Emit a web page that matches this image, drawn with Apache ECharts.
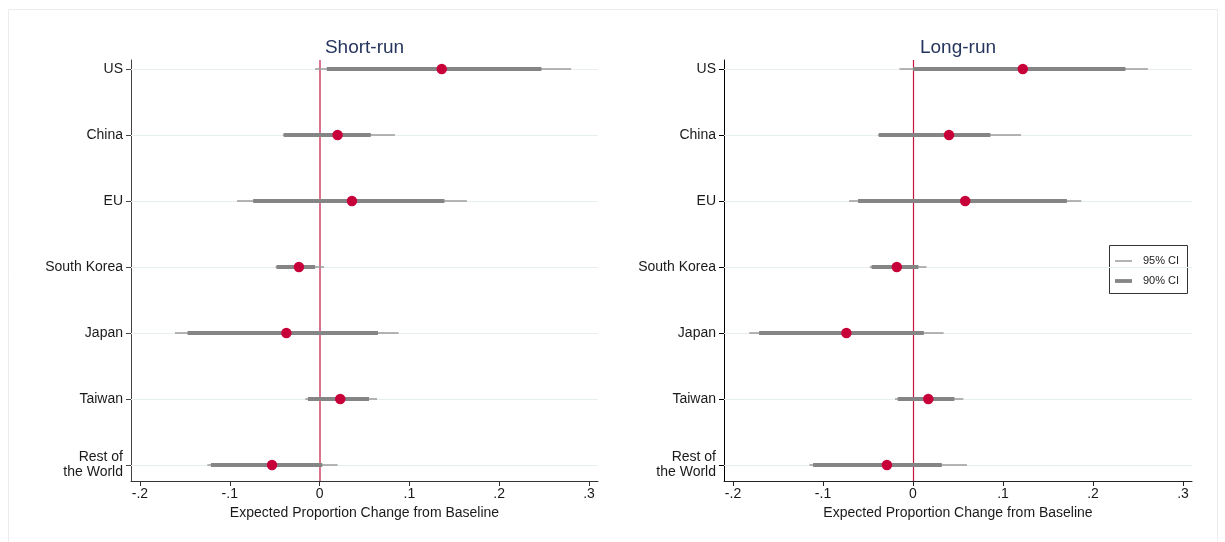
<!DOCTYPE html>
<html>
<head>
<meta charset="utf-8">
<title>Expected Proportion Change from Baseline</title>
<script src="https://cdn.jsdelivr.net/npm/echarts@6/dist/echarts.min.js"></script>
<style>
  html, body { margin: 0; padding: 0; background: #ffffff; }
  #chart { width: 1225px; height: 542px; }
</style>
</head>
<body>
<div id="chart"></div>
<script>
// Rows, top to bottom
const categories = ['US', 'China', 'EU', 'South Korea', 'Japan', 'Taiwan', 'Rest of\nthe World'];

// Short-run estimates with 90% and 95% confidence bounds
const srEst  = [0.136, 0.020, 0.036, -0.023, -0.037, 0.023, -0.053];
const srLo90 = [0.008, -0.040, -0.074, -0.048, -0.147, -0.013, -0.121];
const srHi90 = [0.247, 0.057, 0.139, -0.005, 0.065, 0.055, 0.003];
const srLo95 = [-0.005, -0.041, -0.092, -0.049, -0.161, -0.016, -0.125];
const srHi95 = [0.280, 0.084, 0.164, 0.005, 0.088, 0.064, 0.020];

// Long-run estimates with 90% and 95% confidence bounds
const lrEst  = [0.122, 0.040, 0.058, -0.018, -0.074, 0.017, -0.029];
const lrLo90 = [0.000, -0.038, -0.061, -0.046, -0.171, -0.017, -0.111];
const lrHi90 = [0.236, 0.086, 0.171, 0.006, 0.012, 0.046, 0.032];
const lrLo95 = [-0.015, -0.039, -0.071, -0.048, -0.182, -0.020, -0.115];
const lrHi95 = [0.261, 0.120, 0.187, 0.015, 0.034, 0.056, 0.060];

// Horizontal axis ticks
const xTicks = [-0.2, -0.1, 0, 0.1, 0.2, 0.3];
const xTickLabels = ['-.2', '-.1', '0', '.1', '.2', '.3'];

const panelTitles = ['Short-run', 'Long-run'];
const xTitle = 'Expected Proportion Change from Baseline';
const legendLabels = ['95% CI', '90% CI'];

const FONT = '"Liberation Sans", Arial, Helvetica, sans-serif';
const rowIdx = categories.map((_, i) => i);

const C_THIN = '#9b9b9b';
const C_THICK = '#858585';
const C_DOT = '#c8003a';

// Each interval is a filled horizontal bar of fixed pixel thickness
function intervalSeries(lo, hi, axisIndex, color, thickness, z) {
  return {
    type: 'custom',
    xAxisIndex: axisIndex,
    yAxisIndex: axisIndex,
    z: z,
    silent: true,
    animation: false,
    encode: { x: [0, 1], y: 2 },
    data: lo.map((v, i) => [v, hi[i], i]),
    renderItem: function (params, api) {
      const y = api.value(2);
      const a = api.coord([api.value(0), y]);
      const b = api.coord([api.value(1), y]);
      return {
        type: 'rect',
        shape: { x: a[0], y: a[1] - thickness / 2, width: b[0] - a[0], height: thickness },
        style: { fill: color, stroke: null, lineWidth: 0 }
      };
    }
  };
}

function panelSeries(est, lo90, hi90, lo95, hi95, axisIndex, zeroColor, zeroWidth) {
  const guides = rowIdx.map(i => ({
    yAxis: i,
    lineStyle: { color: '#e8eff1', width: 1, type: 'solid' }
  }));
  guides.push({ xAxis: 0, lineStyle: { color: zeroColor, width: zeroWidth, type: 'solid' } });
  return [
    {
      // reference lines: row guides and the zero line, kept beneath the marks
      type: 'scatter',
      xAxisIndex: axisIndex,
      yAxisIndex: axisIndex,
      z: 1,
      silent: true,
      animation: false,
      symbolSize: 0,
      data: est.map((v, i) => [v, i]),
      markLine: {
        z: 1,
        silent: true,
        animation: false,
        symbol: ['none', 'none'],
        label: { show: false },
        data: guides
      }
    },
    intervalSeries(lo95, hi95, axisIndex, C_THIN, 1.5, 2),
    intervalSeries(lo90, hi90, axisIndex, C_THICK, 3.8, 3),
    {
      type: 'scatter',
      xAxisIndex: axisIndex,
      yAxisIndex: axisIndex,
      z: 4,
      silent: true,
      animation: false,
      symbol: 'circle',
      symbolSize: 10.5,
      itemStyle: { color: C_DOT, opacity: 1 },
      data: est.map((v, i) => [v, i])
    }
  ];
}

function xAxisOf(gridIndex, lineColor) {
  return {
    type: 'value',
    gridIndex: gridIndex,
    min: -0.21,
    max: 0.31,
    name: xTitle,
    nameLocation: 'middle',
    nameGap: 22,
    nameTextStyle: { fontFamily: FONT, fontSize: 14, color: '#1a1a1a' },
    axisLine: { show: true, onZero: false, lineStyle: { color: lineColor, width: 1 } },
    axisTick: { show: true, length: 5, customValues: xTicks, lineStyle: { color: lineColor, width: 1 } },
    axisLabel: {
      show: true,
      margin: 6,
      customValues: xTicks,
      fontFamily: FONT,
      fontSize: 14,
      color: '#1a1a1a',
      formatter: function (v) {
        const k = xTicks.findIndex(t => Math.abs(t - v) < 1e-9);
        return k >= 0 ? xTickLabels[k] : '';
      }
    },
    splitLine: { show: false }
  };
}

function yAxisOf(gridIndex, lineColor) {
  return {
    type: 'value',
    gridIndex: gridIndex,
    inverse: true,
    min: -0.136,
    max: 6.2424,
    axisLine: { show: true, onZero: false, lineStyle: { color: lineColor, width: 1 } },
    axisTick: { show: true, length: 5, customValues: rowIdx, lineStyle: { color: lineColor, width: 1 } },
    axisLabel: {
      show: true,
      margin: 8,
      customValues: rowIdx,
      fontFamily: FONT,
      fontSize: 14,
      lineHeight: 15,
      color: '#1a1a1a',
      formatter: function (v) {
        const k = Math.round(v);
        return categories[k] !== undefined ? categories[k] : '';
      }
    },
    splitLine: { show: false }
  };
}

const chart = echarts.init(document.getElementById('chart'), null, { renderer: 'canvas' });

const option = {
  backgroundColor: '#ffffff',
  animation: false,
  title: [
    {
      text: panelTitles[0], left: 359.5, top: 33, textAlign: 'center',
      textStyle: { fontFamily: FONT, fontSize: 19, fontWeight: 'normal', color: '#25355d' }
    },
    {
      text: panelTitles[1], left: 953, top: 33, textAlign: 'center',
      textStyle: { fontFamily: FONT, fontSize: 19, fontWeight: 'normal', color: '#25355d' }
    }
  ],
  grid: [
    { left: 131, right: 627, top: 60, bottom: 61, containLabel: false },
    { left: 724, right: 33, top: 60, bottom: 61, containLabel: false }
  ],
  xAxis: [xAxisOf(0, '#333333'), xAxisOf(1, '#222222')],
  yAxis: [yAxisOf(0, '#444444'), yAxisOf(1, '#000000')],
  series: [
    ...panelSeries(srEst, srLo90, srHi90, srLo95, srHi95, 0, '#d45b7a', 1.7),
    ...panelSeries(lrEst, lrLo90, lrHi90, lrLo95, lrHi95, 1, '#c8133c', 1.2)
  ],
  graphic: [
    {
      type: 'rect', silent: true, z: 0,
      shape: { x: 8.5, y: 9.5, width: 1209, height: 540 },
      style: { fill: 'none', stroke: '#ececec', lineWidth: 1 }
    },
    {
      type: 'group', z: 10, silent: true,
      children: [
        {
          type: 'rect',
          shape: { x: 1109.5, y: 245.5, width: 78, height: 48 },
          style: { fill: '#ffffff', stroke: '#333333', lineWidth: 1 }
        },
        {
          type: 'rect',
          shape: { x: 1115, y: 260.25, width: 17, height: 1.5 },
          style: { fill: C_THIN }
        },
        {
          type: 'rect',
          shape: { x: 1115, y: 279.1, width: 17, height: 3.8 },
          style: { fill: C_THICK }
        },
        {
          type: 'text',
          style: { x: 1143, y: 261, text: legendLabels[0], fontFamily: FONT, fontSize: 11, fill: '#222222', verticalAlign: 'middle' }
        },
        {
          type: 'text',
          style: { x: 1143, y: 281, text: legendLabels[1], fontFamily: FONT, fontSize: 11, fill: '#222222', verticalAlign: 'middle' }
        }
      ]
    }
  ]
};

chart.setOption(option);
</script>
</body>
</html>
